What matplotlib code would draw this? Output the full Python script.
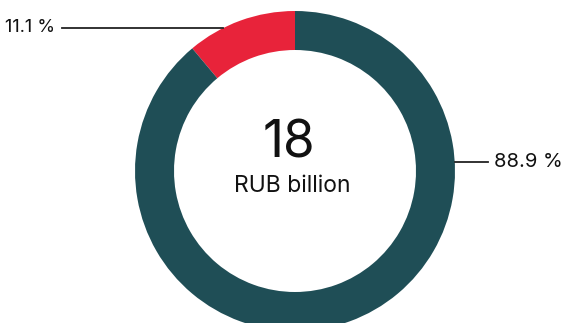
import numpy as np
import matplotlib.pyplot as plt

# data
shares = [11.1, 88.9]
share_labels = ['11.1 %', '88.9 %']
colors = ['#E8233A', '#1F4E56']
total_value = '18'
total_unit = 'RUB billion'

W, H = 565, 323
fig = plt.figure(figsize=(W / 100, H / 100), dpi=100)
ax = fig.add_axes([0, 0, 1, 1])

cx, cy, r = 295, H - 171, 160
ax.pie(shares, colors=colors, startangle=90, counterclock=True,
       center=(cx, cy), radius=r, wedgeprops=dict(width=39, linewidth=0))

ax.set_xlim(0, W)
ax.set_ylim(0, H)
ax.set_aspect('equal')
ax.axis('off')

font = 'Inter'

# label for the small slice (left, top)
y1 = H - 28
x1_end = cx - np.sqrt(r ** 2 - (y1 - cy) ** 2)
ax.plot([62, x1_end], [y1, y1], color='#222222', lw=1.3)
ax.text(55, y1, share_labels[0], ha='right', va='center', fontsize=13,
        family=font, color='#111111')

# label for the large slice (right)
y2 = H - 162
x2_start = cx + np.sqrt(r ** 2 - (y2 - cy) ** 2)
ax.plot([x2_start, 488], [y2, y2], color='#222222', lw=1.3)
ax.text(494, y2, share_labels[1], ha='left', va='center', fontsize=14.5,
        family=font, color='#111111')

# centre text
ax.text(289, H - 144, total_value, ha='center', va='center', fontsize=37,
        family=font, color='#111111')
ax.text(292, H - 186, total_unit, ha='center', va='center', fontsize=16.5,
        family=font, color='#111111')

fig.savefig('out.png', dpi=100)
